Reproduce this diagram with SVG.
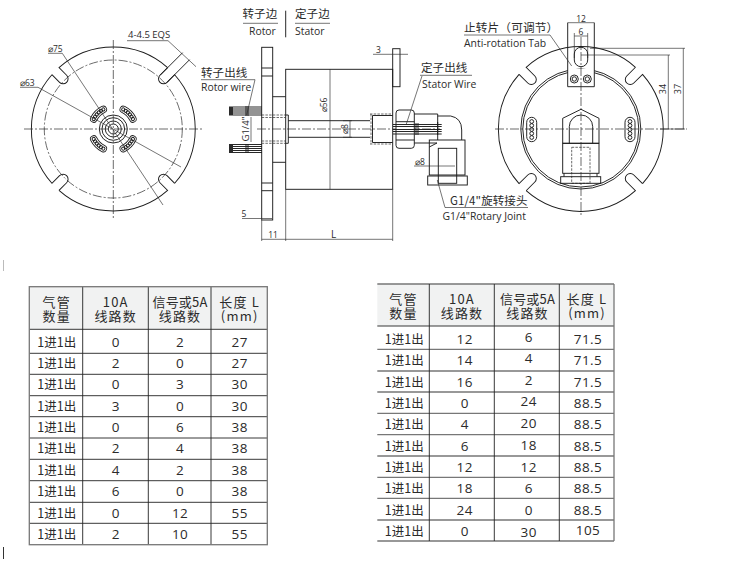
<svg xmlns="http://www.w3.org/2000/svg" width="730" height="561" viewBox="0 0 730 561">
<style>
text{font-family:"Open Sans","Noto Sans CJK SC","Noto Sans",sans-serif;fill:#2b2b2b}
.cn{font-family:"Noto Sans CJK SC","Open Sans",sans-serif;font-size:11.5px;letter-spacing:.1px}
.en{font-size:10.4px}
.dm{font-size:8.5px}
.mid{text-anchor:middle}
.l{fill:none;stroke:#1c1c1c;stroke-width:.95}
.t{fill:none;stroke:#2b2b2b;stroke-width:.65}
.c{fill:none;stroke:#2b2b2b;stroke-width:.7;stroke-dasharray:9 2 2 2}
.h{fill:none;stroke:#2b2b2b;stroke-width:.7;stroke-dasharray:2.5 1.2}
.b{fill:#fff;stroke:#1c1c1c;stroke-width:.95}
.hd{fill:#f1f2f2}
.gl{stroke:#777;stroke-width:1.3;fill:none}
.tl{stroke:#222;stroke-width:.9;fill:none}
.th{font-family:"Noto Sans CJK SC","Open Sans",sans-serif;font-size:13px;letter-spacing:1.2px;text-anchor:middle}
.td{font-size:13.5px;text-anchor:middle;letter-spacing:.4px}
.tc{font-family:"Noto Sans CJK SC","Open Sans",sans-serif;font-size:12.5px;text-anchor:middle}
</style>
<defs>
<g id="kidney">
<path d="M20.9,-6.8A22,22 0 0 1 20.9,6.8" fill="none" stroke="#1c1c1c" stroke-width="7.4" stroke-linecap="round"/>
<path d="M20.9,-6.8A22,22 0 0 1 20.9,6.8" fill="none" stroke="#fff" stroke-width="5.8" stroke-linecap="round"/>
<g class="l"><circle cx="20.9" cy="-6.8" r="1.6"/><circle cx="21.6" cy="-4.1" r="1.6"/><circle cx="22" cy="-1.4" r="1.6"/><circle cx="22" cy="1.4" r="1.6"/><circle cx="21.6" cy="4.1" r="1.6"/><circle cx="20.9" cy="6.8" r="1.6"/></g>
</g>
<path id="ql" class="l" d="M81.8,-5H71A5,5 0 0 0 71,5H81.8A82,82 0 0 1 5,81.8"/>
<path id="qr" class="l" d="M82.3,-5H70A5,5 0 0 0 70,5H82.3A82.5,82.5 0 0 1 5,82.3"/>
<g id="pill">
<rect x="-5" y="-12.2" width="10" height="24.4" rx="5" class="l"/>
<g class="l"><circle cy="-8" r="1.9"/><circle cy="-4" r="1.9"/><circle r="1.9"/><circle cy="4" r="1.9"/><circle cy="8" r="1.9"/></g>
</g>
</defs>

<g id="rotor-end-view">
<g transform="translate(113.3,129)">
<use href="#ql" transform="rotate(45)"/><use href="#ql" transform="rotate(135)"/><use href="#ql" transform="rotate(225)"/><use href="#ql" transform="rotate(315)"/>
<circle r="69" class="c"/>
<use href="#kidney" transform="rotate(45)"/><use href="#kidney" transform="rotate(135)"/><use href="#kidney" transform="rotate(225)"/><use href="#kidney" transform="rotate(315)"/>
<g class="l"><circle r="14"/><circle r="11.3"/><circle r="8"/><circle r="5"/></g>
</g>
<path class="c" d="M24,129H203M113.3,40V218"/>
<path class="t" d="M127,40.7H168L196,66.7"/>
<path class="l" d="M160,75.3L182.6,52.7M167,82.3L189.6,59.7"/>
<path class="t" d="M48,53.3H62.3L163,205M20,87.3H38L181,167"/>
<text x="128" y="38" font-size="9.5">4-4.5 EQS</text>
<text x="48" y="52" class="dm">⌀75</text>
<text x="20" y="85.7" class="dm">⌀63</text>
</g>

<g id="side-view">
<rect x="261.7" y="47.3" width="11" height="172.7" class="l"/>
<path class="l" d="M261.7,68H272.7M261.7,76H272.7M261.7,183H272.7M261.7,190.7H272.7"/>
<path class="l" d="M272.7,96.7H285.7M272.7,162.3H285.7"/>
<rect x="285.7" y="69.3" width="107" height="120" class="l"/>
<path class="c" d="M257,129H440"/>
<path class="h" d="M261.7,115H285.7M261.7,117.5H285.7M261.7,143.3H285.7M261.7,141H285.7"/>
<path class="l" d="M285.7,115H288.3V143.3H285.7"/>
<path class="l" d="M288.3,120.7H370M288.3,137.3H370"/>
<rect x="392.7" y="48.7" width="7.3" height="38" class="l"/>
<path class="h" d="M370,114H392.7M370,144H392.7M371,114V144"/>
<path class="l" d="M372.5,115.5H392.7M372.5,142.5H392.7M372.5,115.5V142.5"/>
<rect x="396" y="110" width="18.3" height="38.3" rx="3" class="b"/>
<path class="l" d="M396,121.7H414.3M396,140H414.3"/>
<path class="l" d="M437.7,116H450.7Q461.7,118 461.7,130V140"/>
<rect x="429.3" y="140" width="35.7" height="35" class="b"/>
<path class="l" d="M414.3,114H437.7V140M414.3,143H437M429.3,147L437,143"/>
<rect x="427.7" y="176" width="39.6" height="9" class="l"/>
<rect x="438.3" y="148.3" width="18.4" height="35" class="l"/>
<path class="l" d="M393,124.5H441.7M393,126.5H441.7M393,129.5H441.7M393,131.5H441.7M393,134H441.7"/>
<path class="l" d="M416,123V135M418,123V135M437.7,122V135"/>
<g class="l">
<path d="M229,107H262M229,109H262M229,111H262M229,113H262M229,115H262"/>
<path d="M229,144.5H262M229,146.5H262M229,148.5H262M229,150.5H262M229,152.5H262"/>
<path d="M246,106V116M248,106V116M246,144V153M248,144V153"/>
</g>
<path d="M229,107H233V115H229ZM229,144.5H233V152.5H229Z" fill="#2b2b2b"/>
<path class="t" d="M251,117V142"/>
<text transform="translate(249.3,129) rotate(-90)" class="mid" font-size="9.5">G1/4"</text>
<path class="t" d="M330,69.3V189.3M350,120.7V137.3M343,120.7H352M343,137.3H352"/>
<text transform="translate(327,105) rotate(-90)" class="dm mid">⌀56</text>
<text transform="translate(348,129) rotate(-90)" class="dm mid">⌀8</text>
<path class="t" d="M373,54.3H408"/>
<text x="376" y="53" class="dm">3</text>
<path class="t" d="M242,218.5H272"/>
<text x="241.5" y="217" class="dm">5</text>
<path class="t" d="M261.7,220V241M285.7,189.3V241M392.7,189.3V241M261.7,239.3H392.7"/>
<text x="273" y="238" class="dm mid">11</text>
<text x="333.5" y="238" class="mid" font-size="10">L</text>
<path class="t" d="M414,166H455"/>
<text x="415" y="165" class="dm">⌀8</text>
</g>

<g id="stator-end-view">
<g transform="translate(580.8,129)">
<use href="#qr" transform="rotate(45)"/><use href="#qr" transform="rotate(135)"/><use href="#qr" transform="rotate(225)"/><use href="#qr" transform="rotate(315)"/>
<circle r="60" class="l"/><circle r="58" class="l"/>
</g>
<use href="#pill" x="531.7" y="129.5"/>
<use href="#pill" x="630" y="129.5"/>
<rect x="567.7" y="69" width="26.6" height="17.7" fill="#fff"/>
<path class="l" d="M567.7,22.7V86.7H594.3V22.7"/>
<path class="t" d="M567.7,22.7H594.3M574.3,36H587.7M574.3,33V58M587.7,33V58"/>
<rect x="574.3" y="47.3" width="13.4" height="19.4" rx="6.7" class="l"/>
<g class="l"><circle cx="574.3" cy="79" r="4"/><circle cx="574.3" cy="79" r="2.2"/><circle cx="587.3" cy="79" r="4"/><circle cx="587.3" cy="79" r="2.2"/></g>
<path class="l" d="M581,109.3L599,118.3V143.3H562.7V118.3Z"/>
<path class="l" d="M569.3,143.3V126.7A11.7,11.7 0 0 1 592.7,126.7V143.3"/>
<rect x="562.7" y="143.3" width="36.3" height="30" class="l"/>
<rect x="571.7" y="147.3" width="18.3" height="36" class="h"/>
<rect x="560.7" y="176.7" width="40" height="6.6" class="l"/>
<path class="l" d="M564,173.3V176.7M597,173.3V176.7"/>
<path class="c" d="M495,129H687M581,37V216"/>
<path class="t" d="M590,48.3H685M581,55H670M668.3,55V129M683.3,48.3V129M660,129H685"/>
<text transform="translate(666,89) rotate(-90)" class="mid" font-size="9">34</text>
<text transform="translate(681,89) rotate(-90)" class="mid" font-size="9">37</text>
<text x="581" y="21.5" class="dm mid">12</text>
<text x="581" y="35" class="dm mid">6</text>
</g>

<g id="labels">
<text x="242.5" y="18" class="cn">转子边</text>
<path class="t" d="M243,23.3H278"/>
<text x="249" y="35" class="en">Rotor</text>
<path class="l" d="M285.7,10.7V37.3"/>
<text x="295" y="18" class="cn">定子边</text>
<path class="t" d="M295,23.3H330"/>
<text x="295" y="35" class="en">Stator</text>
<text x="201" y="77" class="cn">转子出线</text>
<path class="t" d="M201,79.7H255L246.7,115"/>
<text x="201" y="90.5" class="en">Rotor wire</text>
<text x="421" y="72.3" class="cn">定子出线</text>
<path class="t" d="M420,75.3H472M422,76L406,125"/>
<text x="422" y="87.5" class="en">Stator Wire</text>
<text x="464" y="32" class="cn" style="font-size:11.7px">止转片（可调节）</text>
<path class="t" d="M464,35H550L571.7,66"/>
<text x="464" y="47" class="en">Anti-rotation Tab</text>
<text x="450" y="205" class="cn">G1/4"旋转接头</text>
<path class="t" d="M437.3,180L445,207.5H528"/>
<text x="442.5" y="220" class="en">G1/4"Rotary Joint</text>
</g>

<g id="table-1">
<rect x="29.3" y="286.7" width="238" height="42.6" class="hd"/>
<path class="tl" d="M29.3,329.3H267.3M29.3,353.3H267.3M29.3,374.3H267.3M29.3,395.7H267.3M29.3,416.7H267.3M29.3,438H267.3M29.3,459.3H267.3M29.3,480.7H267.3M29.3,502.3H267.3M29.3,523.3H267.3"/>
<path class="tl" d="M82.7,286.7V544.7M148.3,286.7V544.7M211,286.7V544.7"/>
<rect x="29.3" y="286.7" width="238" height="258" class="gl"/>
<text x="56.7" y="307" class="th">气管<tspan x="56.7" dy="13.5">数量</tspan></text>
<text x="115.7" y="307" class="th">10A<tspan x="115.7" dy="13.5">线路数</tspan></text>
<text x="180" y="307" class="th" style="letter-spacing:.2px">信号或5A<tspan x="180" dy="14" style="letter-spacing:1.2px">线路数</tspan></text>
<text x="239.7" y="307" class="th">长度 L<tspan x="239.7" dy="14">(mm)</tspan></text>
<g>
<text x="56.7" y="347" class="tc">1进1出</text><text x="115.7" y="347" class="td">0</text><text x="180" y="347" class="td">2</text><text x="239.7" y="347" class="td">27</text>
<text x="56.7" y="368.4" class="tc">1进1出</text><text x="115.7" y="368.4" class="td">2</text><text x="180" y="368.4" class="td">0</text><text x="239.7" y="368.4" class="td">27</text>
<text x="56.7" y="389.4" class="tc">1进1出</text><text x="115.7" y="389.4" class="td">0</text><text x="180" y="389.4" class="td">3</text><text x="239.7" y="389.4" class="td">30</text>
<text x="56.7" y="410.7" class="tc">1进1出</text><text x="115.7" y="410.7" class="td">3</text><text x="180" y="410.7" class="td">0</text><text x="239.7" y="410.7" class="td">30</text>
<text x="56.7" y="432" class="tc">1进1出</text><text x="115.7" y="432" class="td">0</text><text x="180" y="432" class="td">6</text><text x="239.7" y="432" class="td">38</text>
<text x="56.7" y="453.4" class="tc">1进1出</text><text x="115.7" y="453.4" class="td">2</text><text x="180" y="453.4" class="td">4</text><text x="239.7" y="453.4" class="td">38</text>
<text x="56.7" y="475" class="tc">1进1出</text><text x="115.7" y="475" class="td">4</text><text x="180" y="475" class="td">2</text><text x="239.7" y="475" class="td">38</text>
<text x="56.7" y="496.4" class="tc">1进1出</text><text x="115.7" y="496.4" class="td">6</text><text x="180" y="496.4" class="td">0</text><text x="239.7" y="496.4" class="td">38</text>
<text x="56.7" y="518.4" class="tc">1进1出</text><text x="115.7" y="518.4" class="td">0</text><text x="180" y="518.4" class="td">12</text><text x="239.7" y="518.4" class="td">55</text>
<text x="56.7" y="539.4" class="tc">1进1出</text><text x="115.7" y="539.4" class="td">2</text><text x="180" y="539.4" class="td">10</text><text x="239.7" y="539.4" class="td">55</text>
</g>
</g>

<g id="table-2">
<rect x="377.3" y="284" width="236.7" height="42" class="hd"/>
<path class="tl" d="M377.3,326H614"/>
<path class="gl" d="M377.3,349.3H614M377.3,371H614M377.3,392H614M377.3,413.3H614M377.3,434.7H614M377.3,456H614M377.3,477.3H614M377.3,498.3H614M377.3,520H614M377.3,541H614M377.3,284H614M614,284V541"/>
<path class="tl" d="M429.3,284V541M494.3,284V541M559.3,284V541"/>
<text x="403.5" y="304" class="th">气管<tspan x="403.5" dy="13.5">数量</tspan></text>
<text x="462" y="304" class="th">10A<tspan x="462" dy="13.5">线路数</tspan></text>
<text x="527.5" y="304" class="th" style="letter-spacing:.2px">信号或5A<tspan x="527.5" dy="13.5" style="letter-spacing:1.2px">线路数</tspan></text>
<text x="587" y="304" class="th">长度 L<tspan x="587" dy="13.5">(mm)</tspan></text>
<g>
<text x="404.3" y="344" class="tc">1进1出</text><text x="464.7" y="344" class="td">12</text><text x="528.7" y="341.5" class="td">6</text><text x="588" y="344" class="td">71.5</text>
<text x="404.3" y="365.4" class="tc">1进1出</text><text x="464.7" y="365.4" class="td">14</text><text x="528.7" y="363" class="td">4</text><text x="588" y="365.4" class="td">71.5</text>
<text x="404.3" y="386.7" class="tc">1进1出</text><text x="464.7" y="386.7" class="td">16</text><text x="528.7" y="384.5" class="td">2</text><text x="588" y="386.7" class="td">71.5</text>
<text x="404.3" y="408" class="tc">1进1出</text><text x="464.7" y="408" class="td">0</text><text x="528.7" y="406" class="td">24</text><text x="588" y="408" class="td">88.5</text>
<text x="404.3" y="429.4" class="tc">1进1出</text><text x="464.7" y="429.4" class="td">4</text><text x="528.7" y="428" class="td">20</text><text x="588" y="429.4" class="td">88.5</text>
<text x="404.3" y="450.7" class="tc">1进1出</text><text x="464.7" y="450.7" class="td">6</text><text x="528.7" y="450" class="td">18</text><text x="588" y="450.7" class="td">88.5</text>
<text x="404.3" y="472" class="tc">1进1出</text><text x="464.7" y="472" class="td">12</text><text x="528.7" y="472" class="td">12</text><text x="588" y="472" class="td">88.5</text>
<text x="404.3" y="493.4" class="tc">1进1出</text><text x="464.7" y="493.4" class="td">18</text><text x="528.7" y="493.4" class="td">6</text><text x="588" y="493.4" class="td">88.5</text>
<text x="404.3" y="515.4" class="tc">1进1出</text><text x="464.7" y="515.4" class="td">24</text><text x="528.7" y="515.4" class="td">0</text><text x="588" y="515.4" class="td">88.5</text>
<text x="404.3" y="536.4" class="tc">1进1出</text><text x="464.7" y="536.4" class="td">0</text><text x="528.7" y="537.4" class="td">30</text><text x="588" y="535.4" class="td">105</text>
</g>
</g>

<path d="M3.5,547V559" stroke="#333" stroke-width="1"/>
<path d="M3.5,260V271" stroke="#bbb" stroke-width="1"/>
</svg>
